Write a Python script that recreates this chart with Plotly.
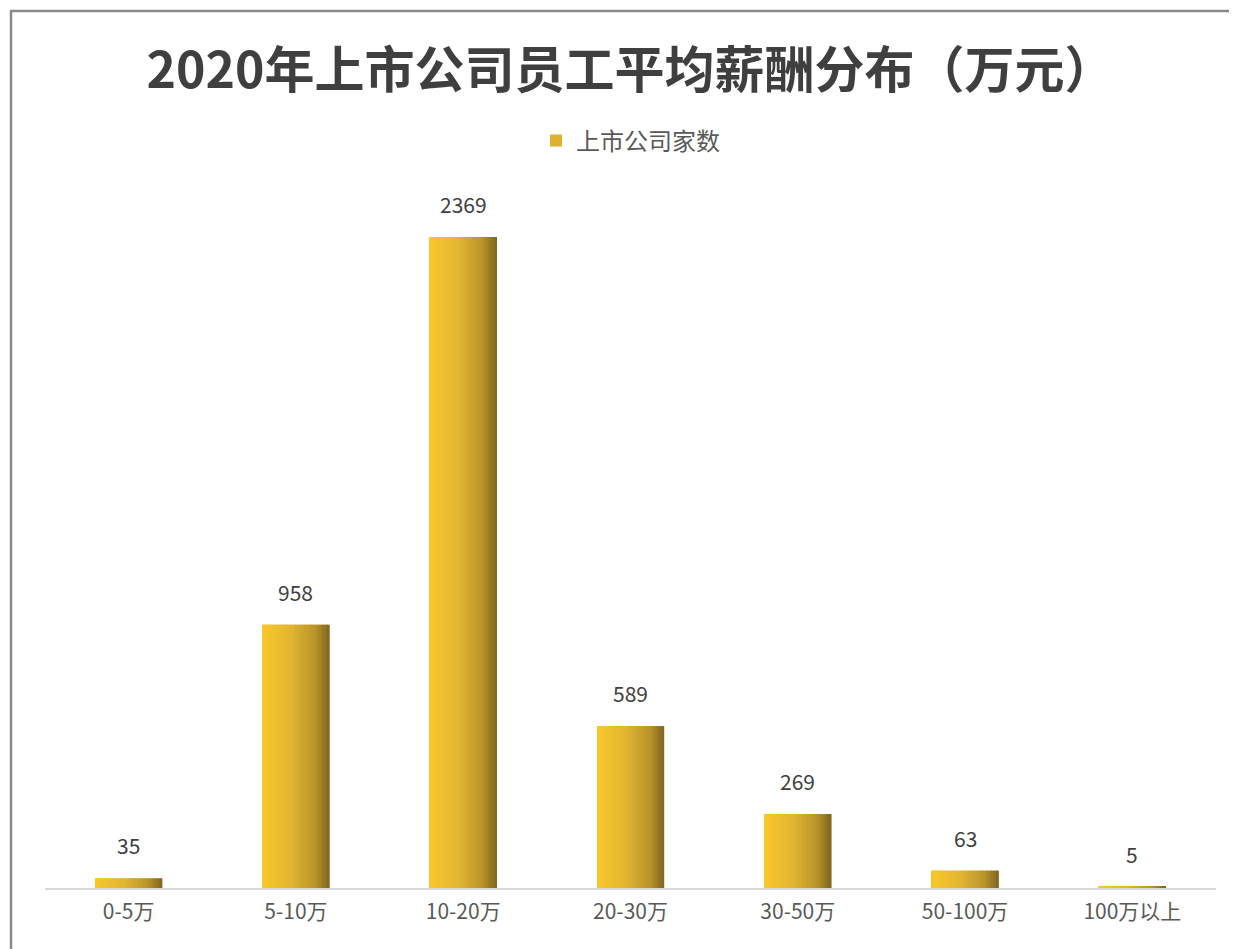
import plotly.graph_objects as go

categories = ["0-5万", "5-10万", "10-20万", "20-30万", "30-50万", "50-100万", "100万以上"]
counts = [35, 958, 2369, 589, 269, 63, 5]
series_name = "上市公司家数"
title_text = "2020年上市公司员工平均薪酬分布（万元）"

FONT = "Noto Sans CJK SC"
BAR_W = 0.4
N_STRIPS = 40
stops = [(0.0, (250, 200, 42)), (0.45, (224, 180, 50)), (0.8, (184, 147, 40)), (1.0, (128, 102, 32))]


def grad(t):
    for (t0, c0), (t1, c1) in zip(stops[:-1], stops[1:]):
        if t <= t1:
            f = (t - t0) / (t1 - t0) if t1 > t0 else 0
            return "rgb(%d,%d,%d)" % tuple(round(a + (b - a) * f) for a, b in zip(c0, c1))
    return "rgb(%d,%d,%d)" % stops[-1][1]


fig = go.Figure()
fig.add_trace(go.Bar(
    x=categories, y=counts, name=series_name, width=BAR_W,
    marker=dict(color="rgb(222,178,48)", line=dict(width=0)),
    showlegend=True, hoverinfo="skip",
))
step = BAR_W / N_STRIPS
for i in range(N_STRIPS):
    fig.add_trace(go.Bar(
        x=categories, y=counts, width=step * 1.15, offset=-BAR_W / 2 + i * step,
        marker=dict(color=grad((i + 0.5) / N_STRIPS), line=dict(width=0)),
        showlegend=False, hoverinfo="skip",
    ))

for c, v in zip(categories, counts):
    fig.add_annotation(x=c, y=v, text=str(v), showarrow=False, yanchor="bottom",
                       yshift=16, font=dict(family=FONT, size=21, color="#404040"))

# page is rendered with an 8px body offset
OFF = 8
W, H = 1237, 949
ml, mr, mt, mb = 45 - OFF, 29, 201 - OFF, 69
pw, ph = W - ml - mr, H - mt - mb
axis_y = H - mb  # figure pixel of axis line

fig.add_shape(type="rect", xref="paper", yref="paper",
              x0=(11 - OFF - ml) / pw, x1=(W + 20 - ml) / pw,
              y0=-(mb + 20) / ph, y1=(axis_y - (11 - OFF)) / ph,
              line=dict(color="#8a8a8a", width=2.5), layer="above")

fig.update_layout(
    width=W, height=H,
    margin=dict(l=ml, r=mr, t=mt, b=mb),
    paper_bgcolor="white", plot_bgcolor="white",
    barmode="overlay",
    title=dict(text="<b>" + title_text + "</b>", x=0.5, xref="paper", xanchor="center",
               y=(H - (70 - OFF)) / H, yanchor="middle",
               font=dict(family=FONT, size=50, color="#3f3f3f")),
    legend=dict(orientation="h", x=0.5, xanchor="center", y=(axis_y - (141 - OFF)) / ph,
                yanchor="middle",
                font=dict(family=FONT, size=24, color="#595959")),
    xaxis=dict(showline=True, linecolor="#d9d9d9", linewidth=1.5, ticks="", showgrid=False,
               tickfont=dict(family=FONT, size=21, color="#595959"), zeroline=False,
               ticklabelstandoff=4),
    yaxis=dict(range=[0, 2500], visible=False, showgrid=False, zeroline=False),
    showlegend=True,
)
fig.write_html("out.html")
